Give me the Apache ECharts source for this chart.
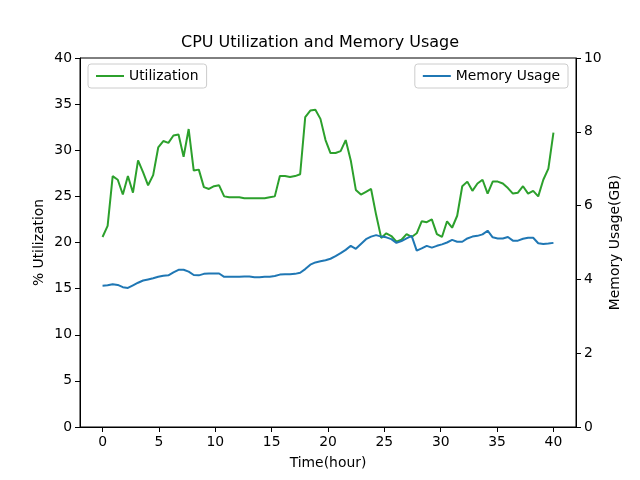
<!DOCTYPE html>
<html>
<head>
<meta charset="utf-8">
<script src="https://cdn.jsdelivr.net/npm/echarts@6/dist/echarts.min.js"></script>
<style>
    html, body { margin: 0; padding: 0; background: #fff; }
    #chart { width: 640px; height: 480px; }
</style>
</head>
<body>
<div id="chart"></div>
<script>
// time in hours
const hours = [
    0, 0.45, 0.90, 1.35, 1.80, 2.25, 2.70, 3.15, 3.60, 4.04,
    4.49, 4.94, 5.39, 5.84, 6.29, 6.74, 7.19, 7.64, 8.09, 8.54,
    8.99, 9.44, 9.89, 10.34, 10.79, 11.24, 11.69, 12.13, 12.58, 13.03,
    13.48, 13.93, 14.38, 14.83, 15.28, 15.73, 16.18, 16.63, 17.08, 17.53,
    17.98, 18.43, 18.88, 19.33, 19.78, 20.22, 20.67, 21.12, 21.57, 22.02,
    22.47, 22.92, 23.37, 23.82, 24.27, 24.72, 25.17, 25.62, 26.07, 26.52,
    26.97, 27.42, 27.87, 28.31, 28.76, 29.21, 29.66, 30.11, 30.56, 31.01,
    31.46, 31.91, 32.36, 32.81, 33.26, 33.71, 34.16, 34.61, 35.06, 35.51,
    35.96, 36.40, 36.85, 37.30, 37.75, 38.20, 38.65, 39.10, 39.55, 40.00
];

// % cpu utilization
const utilization = [
    20.6, 21.8, 27.2, 26.8, 25.2, 27.2, 25.4, 28.9, 27.6, 26.2,
    27.3, 30.3, 31.0, 30.8, 31.6, 31.7, 29.3, 32.3, 27.8, 27.9,
    26.0, 25.8, 26.1, 26.2, 25.0, 24.9, 24.9, 24.9, 24.8, 24.8,
    24.8, 24.8, 24.8, 24.9, 25.0, 27.2, 27.2, 27.1, 27.2, 27.4,
    33.6, 34.3, 34.4, 33.4, 31.1, 29.7, 29.7, 29.9, 31.1, 28.9,
    25.7, 25.2, 25.5, 25.8, 23.0, 20.5, 21.0, 20.7, 20.1, 20.3,
    20.9, 20.6, 21.0, 22.3, 22.2, 22.5, 20.9, 20.6, 22.3, 21.6,
    22.9, 26.1, 26.6, 25.6, 26.4, 26.8, 25.3, 26.6, 26.6, 26.4,
    25.9, 25.3, 25.4, 26.1, 25.3, 25.6, 25.0, 26.8, 28.0, 31.9
];

// memory in GB
const memory = [
    3.83, 3.84, 3.87, 3.85, 3.79, 3.77, 3.84, 3.91, 3.97, 4.00,
    4.03, 4.07, 4.10, 4.11, 4.19, 4.26, 4.26, 4.21, 4.12, 4.11,
    4.15, 4.16, 4.16, 4.16, 4.07, 4.07, 4.07, 4.07, 4.08, 4.08,
    4.06, 4.06, 4.07, 4.07, 4.09, 4.13, 4.14, 4.14, 4.15, 4.18,
    4.28, 4.40, 4.46, 4.49, 4.52, 4.56, 4.63, 4.71, 4.80, 4.91,
    4.83, 4.96, 5.09, 5.16, 5.20, 5.16, 5.14, 5.09, 4.99, 5.04,
    5.11, 5.18, 4.78, 4.84, 4.91, 4.86, 4.91, 4.95, 5.00, 5.07,
    5.02, 5.02, 5.11, 5.16, 5.18, 5.22, 5.32, 5.14, 5.11, 5.11,
    5.15, 5.05, 5.05, 5.10, 5.13, 5.13, 4.98, 4.96, 4.97, 4.99
];

const xTicks = [0, 5, 10, 15, 20, 25, 30, 35, 40];

const font = 'DejaVu Sans';
const myChart = echarts.init(document.getElementById('chart'));

const legendBase = {
    padding: [5, 8, 5, 8],
    borderColor: '#ccc',
    borderWidth: 1,
    borderRadius: 3,
    icon: 'rect',
    itemWidth: 28,
    itemHeight: 2,
    itemGap: 8,
    textStyle: { fontFamily: font, fontSize: 13.9, color: '#000', padding: [2, 0, 2, 0] }
};

const option = {
    animation: false,
    textStyle: { fontFamily: font, color: '#000' },
    title: {
        text: 'CPU Utilization and Memory Usage',
        left: 'center',
        top: 35,
        padding: 0,
        textStyle: { fontFamily: font, fontSize: 16, fontWeight: 'normal', color: '#000' }
    },
    legend: [
        Object.assign({}, legendBase, { data: ['Utilization'], left: 88, top: 64 }),
        Object.assign({}, legendBase, { data: ['Memory Usage'], right: 72, top: 64 })
    ],
    grid: {
        left: 80,
        right: 64,
        top: 58,
        bottom: 53,
        show: true,
        borderColor: '#000',
        borderWidth: 1,
        containLabel: false
    },
    xAxis: {
        type: 'value',
        min: -2,
        max: 42,
        name: 'Time(hour)',
        nameLocation: 'middle',
        nameGap: 29,
        nameMoveOverlap: false,
        nameTextStyle: { fontFamily: font, fontSize: 13.9, color: '#000' },
        splitLine: { show: false },
        axisLine: { show: true, onZero: false, lineStyle: { color: '#000' } },
        axisTick: { show: true, inside: false, length: 5, customValues: xTicks, lineStyle: { color: '#000' } },
        axisLabel: { customValues: xTicks, margin: 8, fontFamily: font, fontSize: 13.9, color: '#000' }
    },
    yAxis: [
        {
            type: 'value',
            min: 0,
            max: 40,
            interval: 5,
            name: '% Utilization',
            nameLocation: 'middle',
            nameRotate: 90,
            nameGap: 34,
            nameMoveOverlap: false,
            nameTextStyle: { fontFamily: font, fontSize: 13.9, color: '#000' },
            splitLine: { show: false },
            axisLine: { show: true, onZero: false, lineStyle: { color: '#000' } },
            axisTick: { show: true, length: 5, lineStyle: { color: '#000' } },
            axisLabel: { margin: 8, fontFamily: font, fontSize: 13.9, color: '#000' }
        },
        {
            type: 'value',
            position: 'right',
            min: 0,
            max: 10,
            interval: 2,
            name: 'Memory Usage(GB)',
            nameLocation: 'middle',
            nameRotate: 90,
            nameGap: 32,
            nameMoveOverlap: false,
            nameTextStyle: { fontFamily: font, fontSize: 13.9, color: '#000' },
            splitLine: { show: false },
            axisLine: { show: true, onZero: false, lineStyle: { color: '#000' } },
            axisTick: { show: true, length: 5, lineStyle: { color: '#000' } },
            axisLabel: { margin: 8, fontFamily: font, fontSize: 13.9, color: '#000' }
        }
    ],
    series: [
        {
            name: 'Utilization',
            type: 'line',
            yAxisIndex: 0,
            symbol: 'none',
            color: '#2ca02c',
            lineStyle: { width: 2, color: '#2ca02c' },
            data: hours.map((h, i) => [h, utilization[i]])
        },
        {
            name: 'Memory Usage',
            type: 'line',
            yAxisIndex: 1,
            symbol: 'none',
            color: '#1f77b4',
            lineStyle: { width: 2, color: '#1f77b4' },
            data: hours.map((h, i) => [h, memory[i]])
        }
    ]
};
myChart.setOption(option);
</script>
</body>
</html>
